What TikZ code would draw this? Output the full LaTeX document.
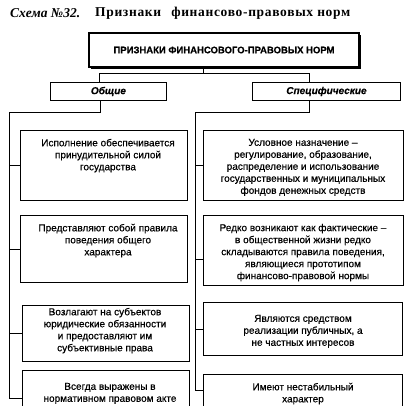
\documentclass[tikz,border=0pt]{standalone}
\usepackage{fontspec}
\setmainfont{Liberation Sans}[FakeBold=0.5]
\newfontfamily\bodyfont{Liberation Sans}[FakeBold=0.5]
\newfontfamily\titlefont{Liberation Serif}
\newfontfamily\titlespaced{Liberation Serif Bold}[LetterSpace=5]
\usetikzlibrary{shadows}
\begin{document}
\begin{tikzpicture}[x=1pt,y=-1pt,
  frame/.style={draw, line width=0.9pt, fill=white, inner sep=0pt, anchor=north west,
    drop shadow={shadow xshift=0.8pt, shadow yshift=-0.8pt, fill=black, opacity=1}},
  topbox/.style={draw, line width=2pt, fill=white, inner sep=0pt, anchor=north west,
    drop shadow={shadow xshift=1.5pt, shadow yshift=-1.5pt, fill=black, opacity=1},
    font=\bfseries\fontsize{9.5}{11}\selectfont},
  head/.style={frame, font=\bfseries\itshape\fontsize{10}{12}\selectfont},
  txt/.style={anchor=north, inner sep=0pt, align=center, font=\bodyfont\fontsize{10}{12}\selectfont},
  conn/.style={line width=0.9pt},
  ttl/.style={anchor=west, inner sep=0pt}]
\path[use as bounding box, clip] (0,0) rectangle (420,405);
\fill[white] (0,0) rectangle (420,405);

% title
\node[ttl, font=\titlefont\bfseries\itshape\fontsize{13.5}{16}\selectfont] (t1) at (10,13) {Схема №32.};
\node[ttl, font=\titlespaced\fontsize{13.5}{16}\selectfont] (t2) at (95,13) {Признаки\hspace{6pt} финансово-правовых норм};

% top box and headings
\node[topbox, minimum width=270pt, minimum height=34pt] (top) at (88,32) {ПРИЗНАКИ ФИНАНСОВОГО-ПРАВОВЫХ НОРМ};
\node[head, minimum width=116pt, minimum height=18pt] (ob) at (50,82) {Общие};
\node[head, minimum width=148pt, minimum height=18pt] (sp) at (252,82) {Специфические};

% left boxes
\node[frame, minimum width=167pt, minimum height=70pt] (l1) at (20,130) {};
\node[frame, minimum width=167pt, minimum height=67pt] (l2) at (20,215) {};
\node[frame, minimum width=167pt, minimum height=56pt] (l3) at (22,305) {};
\node[frame, minimum width=167pt, minimum height=56pt] (l4) at (22,370) {};
% right boxes
\node[frame, minimum width=200pt, minimum height=70pt] (r1) at (203,130) {};
\node[frame, minimum width=200pt, minimum height=70pt] (r2) at (203,215) {};
\node[frame, minimum width=199pt, minimum height=53pt] (r3) at (203,302) {};
\node[frame, minimum width=199pt, minimum height=32pt] (r4) at (203,374) {};

% texts
\node[txt] (l1t) at (108,138.7) {Исполнение обеспечивается\\принудительной силой\\государства};
\node[txt] (l2t) at (108,223.7) {Представляют собой правила\\поведения общего\\характера};
\node[txt] (l3t) at (105,307.7) {Возлагают на субъектов\\юридические обязанности\\и предоставляют им\\субъективные права};
\node[txt] (l4t) at (110,382.7) {Всегда выражены в\\нормативном правовом акте};
\node[txt] (r1t) at (303,138.7) {Условное назначение –\\регулирование, образование,\\распределение и использование\\государственных и муниципальных\\фондов денежных средств};
\node[txt] (r2t) at (303,223.7) {Редко возникают как фактические –\\в общественной жизни редко\\складываются правила поведения,\\являющиеся прототипом\\финансово-правовой нормы};
\node[txt] (r3t) at (303,314.7) {Являются средством\\реализации публичных, а\\не частных интересов};
\node[txt] (r4t) at (303,382.7) {Имеют нестабильный\\характер};

% connectors
\coordinate (jl) at (99,73);
\coordinate (jr) at (309,73);
\coordinate (lt) at (9,112);
\coordinate (rt) at (195,112);
\draw[conn] ([xshift=-21pt]top.south) -- ([xshift=-21pt]top.south |- jl);
\draw[conn] (jl |- ob.north) -- (jl) -- (jr) -- (jr |- sp.north);
\draw[conn] ([xshift=-8pt]ob.south) -- ([xshift=-8pt]ob.south |- lt) -- (lt) -- (lt |- l4.west);
\draw[conn] ([xshift=-17pt]sp.south) -- ([xshift=-17pt]sp.south |- rt) -- (rt) -- (rt |- r4.west);
\draw[conn] (lt |- l1.west) -- (l1.west);
\draw[conn] (lt |- l2.west) -- (l2.west);
\draw[conn] (lt |- l3.west) -- (l3.west);
\draw[conn] (lt |- l4.west) -- (l4.west);
\draw[conn] (rt |- r1.west) -- (r1.west);
\draw[conn] ([yshift=-9pt]r2.west -| rt) -- ([yshift=-9pt]r2.west);
\draw[conn] (rt |- r3.west) -- (r3.west);
\draw[conn] (rt |- r4.west) -- (r4.west);
\end{tikzpicture}
\end{document}
